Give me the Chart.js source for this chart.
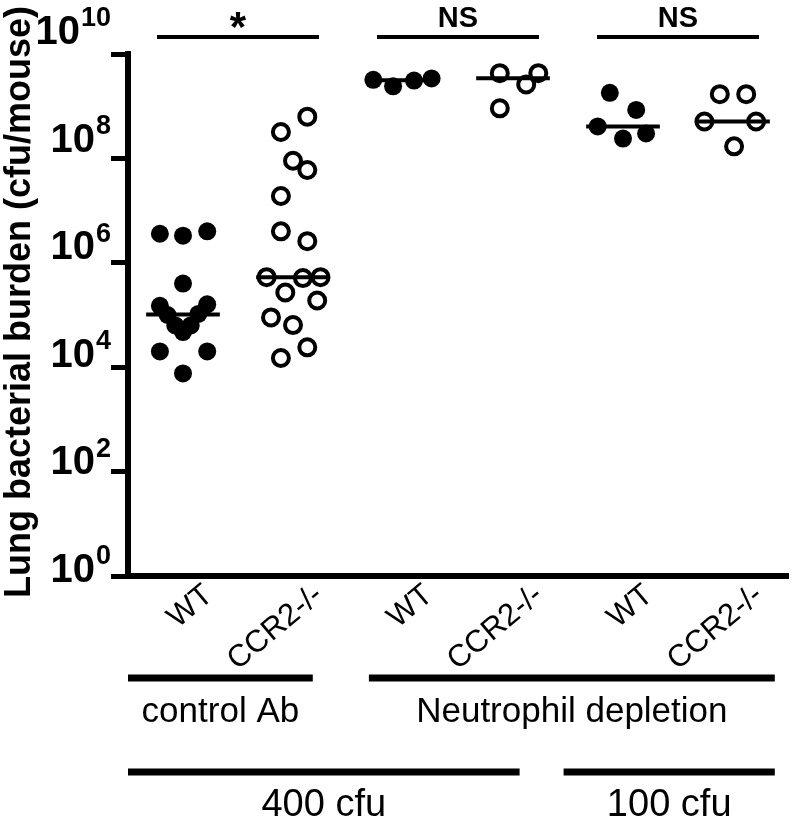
<!DOCTYPE html>
<html>
<head>
<meta charset="utf-8">
<script src="https://cdn.jsdelivr.net/npm/chart.js@4.4.0/dist/chart.umd.min.js"></script>
<style>
  html, body { margin: 0; padding: 0; background: #fff; }
</style>
</head>
<body>
<canvas id="canvas" width="800" height="827"></canvas>
<script>
const FONT = "'Liberation Sans', Arial, sans-serif";

// groups along the x axis
const categories = ["WT", "CCR2-/-", "WT", "CCR2-/-", "WT", "CCR2-/-"];
const yExponents = [0, 2, 4, 6, 8, 10];

// cfu per mouse; jitter = horizontal lane inside a group
const wtCtrl = [3.6e6, 3.3e6, 4e6, 4e5, 1.5e5, 1.6e5, 1e5, 6.3e4, 4.7e4, 6.3e4, 1.05e5, 2e4, 2e4, 7.6e3];
const wtCtrlJitter = [-0.21, 0, 0.22, 0, -0.21, 0.22, -0.14, -0.07, 0, 0.07, 0.14, -0.21, 0.22, 0];

const koCtrl = [6.3e8, 3.2e8, 9e7, 6e7, 1.9e7, 4e6, 2.6e6, 5.3e5, 5.1e5, 5.3e5, 2.7e5, 1.9e5, 9e4, 6.4e4, 2.4e4, 1.5e4];
const koCtrlJitter = [0.13, -0.11, 0, 0.13, -0.11, -0.11, 0.13, -0.24, 0.09, 0.25, -0.07, 0.22, -0.2, 0, 0.13, -0.11];

const wtDepl400 = [3.2e9, 2.4e9, 3.1e9, 3.4e9];
const wtDepl400Jitter = [-0.27, -0.09, 0.1, 0.26];

const koDepl400 = [4.3e9, 2.6e9, 4.3e9, 9.1e8];
const koDepl400Jitter = [-0.12, 0.12, 0.23, -0.12];

const wtDepl100 = [1.8e9, 8.5e8, 4.1e8, 2.4e8, 3e8];
const wtDepl100Jitter = [-0.12, 0.12, -0.23, 0, 0.21];

const koDepl100 = [1.7e9, 1.7e9, 5.1e8, 5.1e8, 1.7e8];
const koDepl100Jitter = [-0.12, 0.12, -0.26, 0.21, 0.01];

const medians = [1.02e5, 5.3e5, 3.15e9, 3.45e9, 4.1e8, 5.1e8];
const significance = ["*", "NS", "NS"];

const groups = [
  { values: wtCtrl, jitter: wtCtrlJitter, open: false },
  { values: koCtrl, jitter: koCtrlJitter, open: true },
  { values: wtDepl400, jitter: wtDepl400Jitter, open: false },
  { values: koDepl400, jitter: koDepl400Jitter, open: true },
  { values: wtDepl100, jitter: wtDepl100Jitter, open: false },
  { values: koDepl100, jitter: koDepl100Jitter, open: true }
];

const datasets = [];
groups.forEach((g, i) => {
  datasets.push({
    type: "scatter",
    data: g.values.map((v, k) => ({ x: i + g.jitter[k], y: v })),
    pointRadius: g.open ? 8 : 9,
    pointHoverRadius: g.open ? 8 : 9,
    pointBorderWidth: g.open ? 4 : 0,
    pointBackgroundColor: g.open ? "rgba(0,0,0,0)" : "#000",
    pointBorderColor: "#000",
    order: 1
  });
});
medians.forEach((m, i) => {
  datasets.push({
    type: "line",
    data: [{ x: i - 0.335, y: m }, { x: i + 0.335, y: m }],
    borderColor: "#000",
    borderWidth: 4,
    pointRadius: 0,
    order: 0
  });
});

// superscript tick labels and the rotated axis title
const yLabels = {
  id: "yLabels",
  afterDraw(chart) {
    const ctx = chart.ctx;
    const y = chart.scales.y;
    ctx.save();
    ctx.fillStyle = "#000";
    ctx.textAlign = "right";
    ctx.textBaseline = "middle";
    yExponents.forEach(e => {
      // labels in the figure sit a little above their ticks, more so higher up
      const py = y.getPixelForValue(Math.pow(10, e)) - (5 + 1.6 * e);
      ctx.font = "bold 27px " + FONT;
      const ew = ctx.measureText(String(e)).width;
      ctx.fillText(String(e), 111, py - 14);
      ctx.font = "bold 40px " + FONT;
      ctx.fillText("10", 110 - ew, py);
    });
    ctx.translate(20, 302);
    ctx.rotate(-Math.PI / 2);
    ctx.textAlign = "center";
    ctx.font = "bold 36px " + FONT;
    ctx.fillText("Lung bacterial burden (cfu/mouse)", 0, 0);
    ctx.restore();
  }
};

// significance bars above, group bars below
const annotations = {
  id: "annotations",
  afterDraw(chart) {
    const ctx = chart.ctx;
    const x = chart.scales.x;
    ctx.save();
    ctx.strokeStyle = "#000";
    ctx.fillStyle = "#000";
    ctx.lineCap = "butt";

    significance.forEach((s, k) => {
      const mid = x.getPixelForValue(2 * k + 0.5);
      ctx.lineWidth = 4;
      ctx.beginPath();
      ctx.moveTo(mid - 81, 37);
      ctx.lineTo(mid + 81, 37);
      ctx.stroke();
      ctx.textAlign = "center";
      ctx.textBaseline = "alphabetic";
      if (s === "*") {
        ctx.font = "bold 42px " + FONT;
        ctx.fillText(s, mid, 41);
      } else {
        ctx.font = "bold 29px " + FONT;
        ctx.fillText(s, mid, 27);
      }
    });

    const bars = [
      { from: -0.5, to: 1.18, y: 678, text: "control Ab", ty: 712, size: 35 },
      { from: 1.69, to: 5.38, y: 678, text: "Neutrophil depletion", ty: 712, size: 35 },
      { from: -0.5, to: 3.06, y: 772, text: "400 cfu", ty: 806, size: 38 },
      { from: 3.46, to: 5.38, y: 772, text: "100 cfu", ty: 806, size: 38 }
    ];
    bars.forEach(b => {
      const x1 = x.getPixelForValue(b.from);
      const x2 = x.getPixelForValue(b.to);
      ctx.lineWidth = 7;
      ctx.beginPath();
      ctx.moveTo(x1, b.y);
      ctx.lineTo(x2, b.y);
      ctx.stroke();
      ctx.font = b.size + "px " + FONT;
      ctx.textAlign = "center";
      ctx.textBaseline = "middle";
      ctx.fillText(b.text, (x1 + x2) / 2, b.ty);
    });
    ctx.restore();
  }
};

new Chart(document.getElementById("canvas").getContext("2d"), {
  data: { datasets: datasets },
  plugins: [yLabels, annotations],
  options: {
    responsive: false,
    animation: false,
    clip: false,
    layout: { padding: { top: 54, right: 2, left: 0, bottom: 0 } },
    plugins: { legend: { display: false }, tooltip: { enabled: false } },
    scales: {
      x: {
        type: "linear",
        min: -0.5,
        max: 5.5,
        afterBuildTicks: s => { s.ticks = categories.map((c, i) => ({ value: i })); },
        afterFit: s => { s.height = 251; },
        grid: { display: false, drawTicks: false },
        border: { display: true, color: "#000", width: 6 },
        ticks: {
          autoSkip: false,
          minRotation: 40,
          maxRotation: 40,
          padding: 1,
          labelOffset: 26,
          color: "#000",
          font: { family: FONT, size: 31 },
          callback: v => categories[v]
        }
      },
      y: {
        type: "logarithmic",
        min: 1,
        max: 1e10,
        afterBuildTicks: s => { s.ticks = yExponents.map(e => ({ value: Math.pow(10, e) })); },
        afterFit: s => { s.width = 128; },
        grid: { drawOnChartArea: false, drawTicks: true, tickLength: 17, lineWidth: 5, color: "#000" },
        border: { display: true, color: "#000", width: 6 },
        ticks: { display: false }
      }
    }
  }
});
</script>
</body>
</html>
